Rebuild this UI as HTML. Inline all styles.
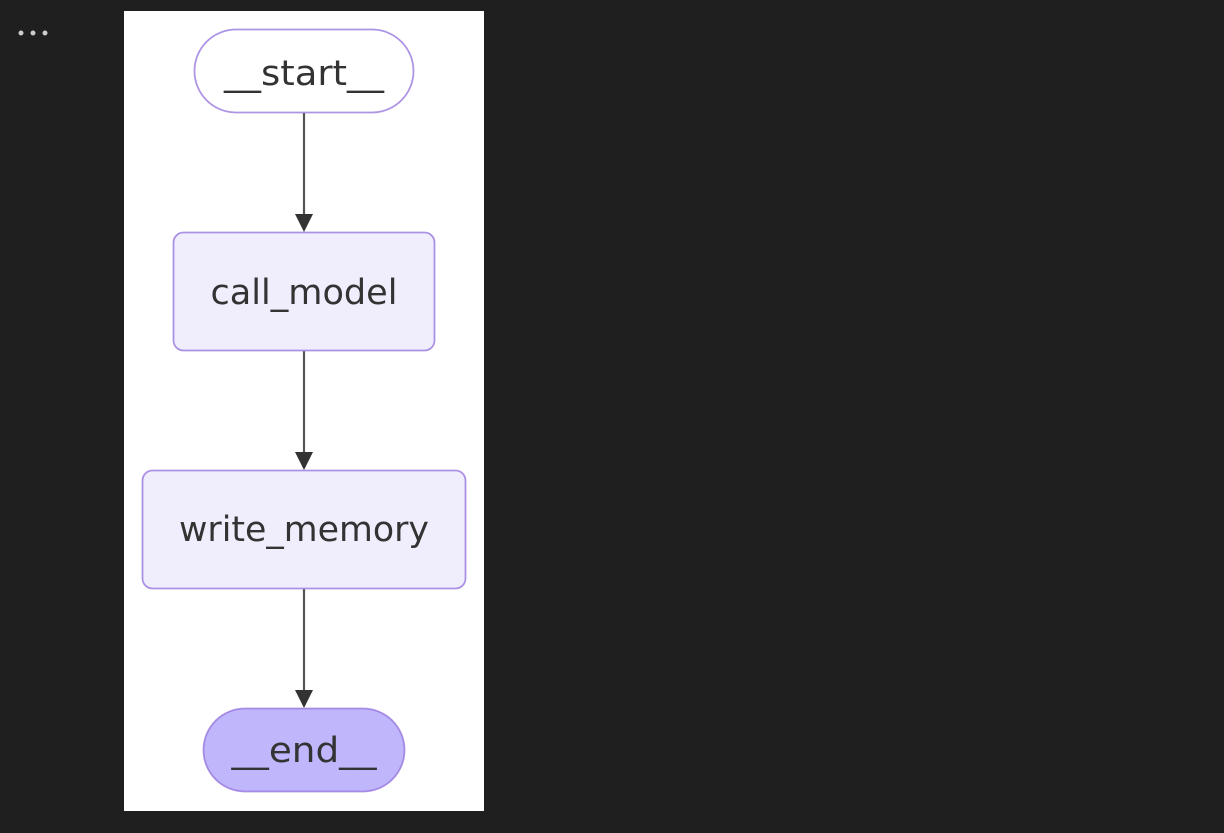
<!DOCTYPE html>
<html><head><meta charset="utf-8"><style>
html,body{margin:0;padding:0;background:#1f1f1f;width:1224px;height:833px;overflow:hidden}
</style></head><body>
<svg width="1224" height="833" xmlns="http://www.w3.org/2000/svg" style="position:absolute;left:0;top:0">
<circle cx="21" cy="33" r="2.5" fill="#ccc"/><circle cx="33" cy="33" r="2.5" fill="#ccc"/><circle cx="45" cy="33" r="2.5" fill="#ccc"/>
<rect x="124" y="11" width="360" height="800" fill="#fff"/>
<g stroke="#555" stroke-width="2.2"><line x1="304" y1="113" x2="304" y2="216"/><line x1="304" y1="351" x2="304" y2="454"/><line x1="304" y1="589" x2="304" y2="692"/></g>
<g fill="#333"><path d="M295 214 L313 214 L304 232Z"/><path d="M295 452 L313 452 L304 470Z"/><path d="M295 690 L313 690 L304 708Z"/></g>
<g stroke="#9370db" stroke-width="1.8" stroke-opacity="0.75">
<rect x="194.5" y="29.5" width="219" height="83" rx="41.5" fill="#fff"/>
<rect x="173.5" y="232.5" width="261" height="118" rx="10" fill="#f0eefd"/>
<rect x="142.5" y="470.5" width="323" height="118" rx="10" fill="#f0eefd"/>
<rect x="203.5" y="708.5" width="201" height="83" rx="41.5" fill="#bfb6fc"/>
</g>
<g font-family="'DejaVu Sans','Liberation Sans',sans-serif" font-size="35" fill="#333" text-anchor="middle">
<text x="304" y="85" textLength="160" lengthAdjust="spacingAndGlyphs">__start__</text>
<text x="304" y="304" textLength="187" lengthAdjust="spacingAndGlyphs">call_model</text>
<text x="304" y="541" textLength="250" lengthAdjust="spacingAndGlyphs">write_memory</text>
<text x="304" y="762" textLength="145" lengthAdjust="spacingAndGlyphs">__end__</text>
</g>
</svg>
</body></html>
